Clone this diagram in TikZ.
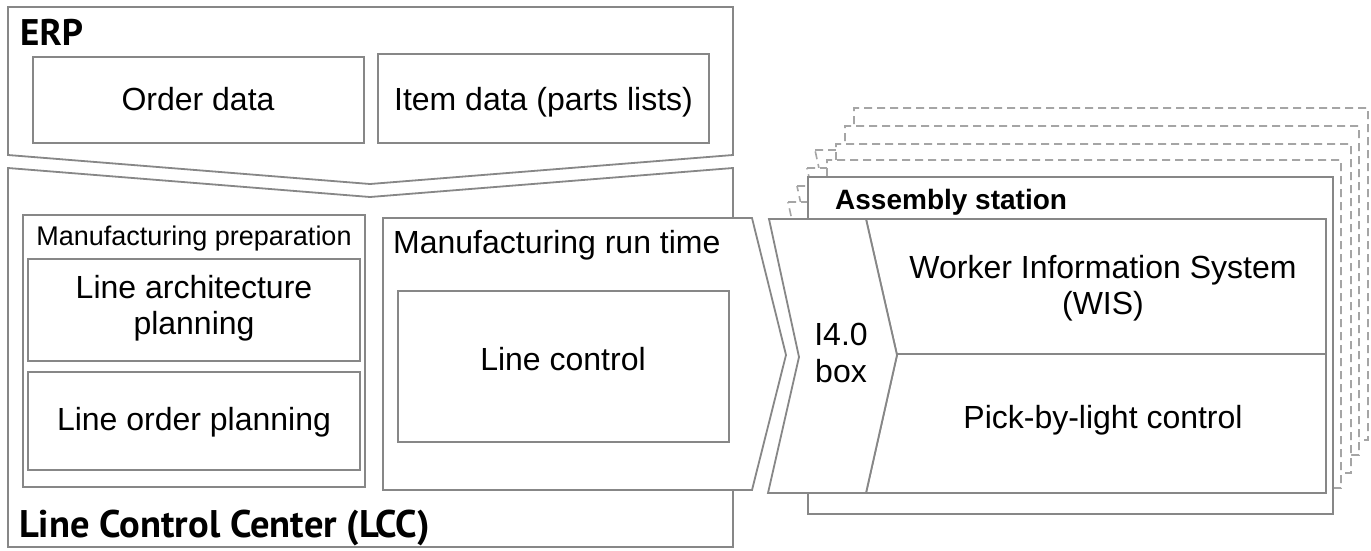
\documentclass[tikz,border=0pt]{standalone}
\usepackage{fontspec}
\setmainfont{Liberation Sans}
\newfontfamily\headfont{PT Sans}

\definecolor{edge}{RGB}{135,135,135}
\definecolor{dashedge}{RGB}{165,165,165}

\begin{document}
\begin{tikzpicture}[x=1pt,y=-1pt,
  box/.style={draw=edge, line width=1.8pt, fill=white, line join=miter},
  card/.style={draw=dashedge, line width=1.6pt, dash pattern=on 8pt off 5pt, fill=white},
  lbl/.style={font=\fontsize{32}{36.5}\selectfont, align=center, inner sep=0pt},
  smalllbl/.style={font=\fontsize{27}{31}\selectfont, inner sep=0pt},
  head/.style={font=\headfont\bfseries\fontsize{37}{40}\selectfont, inner sep=0pt},
  stationhead/.style={font=\bfseries\fontsize{28}{32}\selectfont, inner sep=0pt}
]
\useasboundingbox[fill=white] (0,0) rectangle (1371,550);

% ---------------- ERP ----------------
\draw[box] (8,7) -- (733,7) -- (733,155) -- (370,184) -- (8,155) -- cycle;
\node[head, anchor=base west] (erp) at (20,45) {ERP};
\draw[box] (33,57) rectangle (364,143);
\node[lbl, anchor=base] (order) at (198,110) {Order data};
\draw[box] (378,54) rectangle (709,143);
\node[lbl, anchor=base] (item) at (543.5,110) {Item data (parts lists)};

% ---------------- Line Control Center ----------------
\draw[box] (8,168) -- (370,197) -- (733,168) -- (733,547) -- (8,547) -- cycle;
\node[head, font=\headfont\bfseries\fontsize{38.5}{40}\selectfont, anchor=base west] (lcc) at (19,537) {Line Control Center (LCC)};

% manufacturing preparation
\draw[box] (23,215) rectangle (365,487);
\node[smalllbl, anchor=base] (prep) at (194,245) {Manufacturing preparation};
\draw[box] (28,259) rectangle (360,361);
\node[lbl] (arch) at (194,308) {Line architecture\\planning};
\draw[box] (28,372) rectangle (360,470);
\node[lbl, anchor=base] (lop) at (194,430) {Line order planning};

% manufacturing run time (arrow shape)
\draw[box] (383,218) -- (752,218) -- (786,355) -- (752,490) -- (383,490) -- cycle;
\node[lbl, anchor=base west] (run) at (393,253) {Manufacturing run time};
\draw[box] (398,291) rectangle (729,442);
\node[lbl, anchor=base] (ctrl) at (563,370) {Line control};

% ---------------- Assembly stations (stacked copies) ----------------
% card: chevron left x, station left x, top y, right x, bottom y
\foreach \lc/\ls/\tc/\rc/\bc in {815/854/108/1368/440, 807/845/126/1359/455,
                                 797/836/144/1351/473, 788/827/160/1341/488}{
  \draw[card] (\lc,\tc+42) -- (\ls,\tc+42) -- (\ls,\tc) -- (\rc,\tc) -- (\rc,\bc)
              -- (\lc-1,\bc) -- (\lc+30,\tc+180) -- cycle;
}

% front station
\draw[box] (808,177) rectangle (1333,514);
\node[stationhead, anchor=base west] (station) at (835,209) {Assembly station};

% inner systems
\draw[box] (866,219) -- (1326,219) -- (1326,493) -- (866,493) -- (897,355) -- cycle;
\draw[edge, line width=1.8pt] (897,354) -- (1326,354);
\node[lbl] (wis) at (1103,288) {Worker Information System\\(WIS)};
\node[lbl, anchor=base] (pbl) at (1103,428) {Pick-by-light control};

% I4.0 box
\draw[box] (769,219) -- (866,219) -- (897,355) -- (866,493) -- (768,493) -- (799,357) -- cycle;
\node[lbl] (ibox) at (841,353) {I4.0\\box};
\end{tikzpicture}
\end{document}
